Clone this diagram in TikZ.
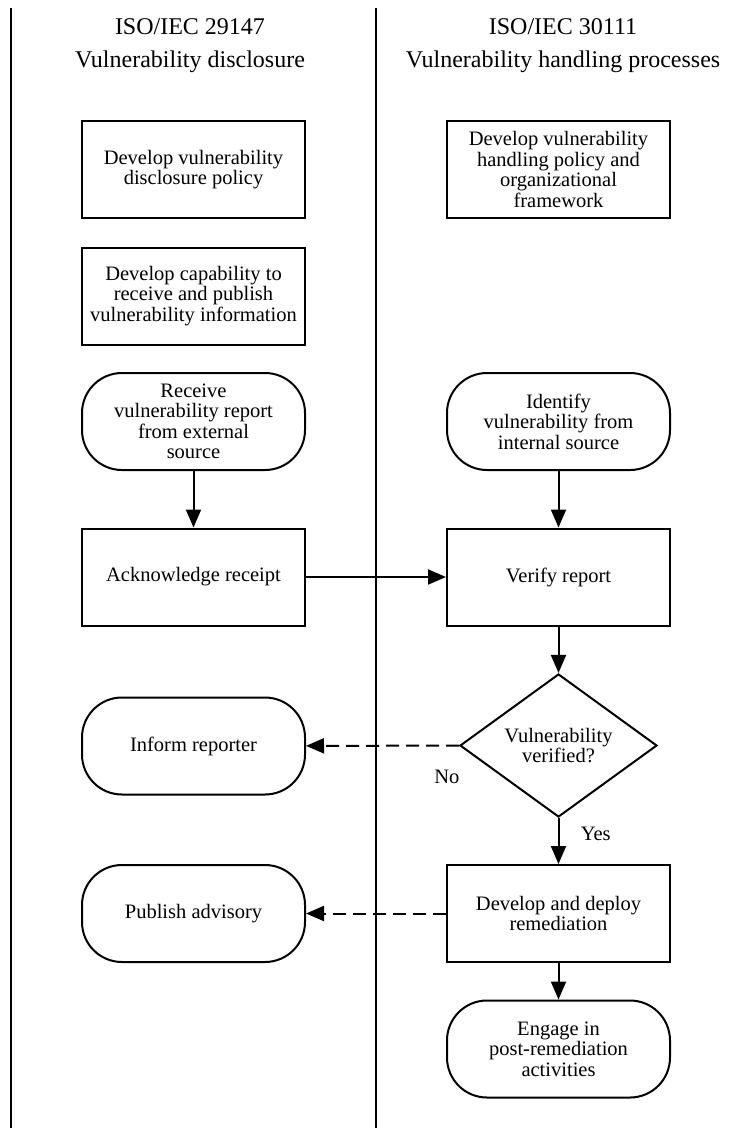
\documentclass[tikz,border=0pt]{standalone}
\usepackage{fontspec}
\setmainfont{Liberation Serif}
\usetikzlibrary{shapes.geometric, arrows.meta}
\tikzset{process/.style={draw, line width=2pt, minimum width=223pt, minimum height=97pt, inner sep=2pt, align=center, font=\fontsize{20.5}{20.5}\selectfont}}
\tikzset{terminal/.style={process, rounded corners=40pt}}
\tikzset{decision/.style={draw, diamond, line width=2pt, minimum width=197pt, minimum height=125pt, inner sep=0pt, align=center, font=\fontsize{20.5}{20.5}\selectfont}}
\tikzset{flow/.style={line width=2pt, -{Triangle[length=18pt, width=15pt]}}}
\tikzset{optflow/.style={flow, dash pattern=on 13pt off 7pt}}
\tikzset{lane/.style={line width=2pt}}
\tikzset{heading/.style={align=center, font=\fontsize{24}{33}\selectfont}}
\tikzset{answer/.style={font=\fontsize{20.5}{20.5}\selectfont}}

\begin{document}
\begin{tikzpicture}[x=1pt, y=-1pt]
  \useasboundingbox (0,0) rectangle (730,1128);
  \draw[lane] (11,8) -- (11,1128);
  \draw[lane] (376,8) -- (376,1128);

  \node[heading] (head29147) at (190,46) {ISO/IEC 29147\\Vulnerability disclosure};
  \node[heading] (head30111) at (563,46) {ISO/IEC 30111\\Vulnerability handling processes};

  \node[process] (policyL) at (193.5,169.5) {Develop vulnerability\\disclosure policy};
  \node[process] (capability) at (193.5,296) {Develop capability to\\receive and publish\\vulnerability information};
  \node[terminal] (receive) at (193.5,421.5) {Receive\\vulnerability report\\from external\\source};
  \node[process] (ack) at (193.5,577) {Acknowledge receipt};
  \node[terminal] (inform) at (193.5,746) {Inform reporter};
  \node[terminal] (publish) at (193.5,913.5) {Publish advisory};

  \node[process] (policyR) at (558.5,169.5) {Develop vulnerability\\handling policy and\\organizational\\framework};
  \node[terminal] (identify) at (558.5,421.5) {Identify\\vulnerability from\\internal source};
  \node[process] (verify) at (558.5,577) {Verify report};
  \node[decision] (verified) at (558.5,745.5) {Vulnerability\\verified?};
  \node[process] (develop) at (558.5,913.5) {Develop and deploy\\remediation};
  \node[terminal] (engage) at (558.5,1049) {Engage in\\post-remediation\\activities};

  \draw[flow] (receive) -- (ack);
  \draw[flow] (identify) -- (verify);
  \draw[flow] (ack) -- (verify);
  \draw[flow] (verify) -- (verified);
  \draw[optflow] (verified) -- node[answer, pos=0.08, below=20pt] (no) {No} (inform);
  \draw[flow] (verified) -- node[answer, pos=0.35, right=18pt] (yes) {Yes} (develop);
  \draw[optflow] (develop) -- (publish);
  \draw[flow] (develop) -- (engage);
\end{tikzpicture}
\end{document}
